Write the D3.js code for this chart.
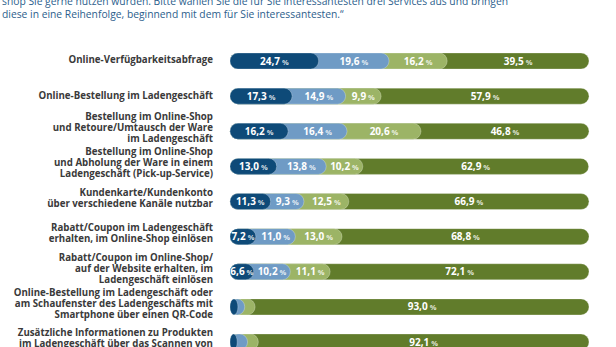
<!DOCTYPE html>
<html><head><meta charset="utf-8">
<script src="https://cdn.jsdelivr.net/npm/d3@7"></script>
<style>
html,body{margin:0;padding:0;background:#fff;}
svg{display:block;}
</style></head>
<body>
<svg id="chart" width="616" height="347"></svg>
<script>
const titleLines = [
  "shop Sie gerne nutzen würden. Bitte wählen Sie die für Sie interessantesten drei Services aus und bringen",
  "diese in eine Reihenfolge, beginnend mit dem für Sie interessantesten.“"
];
const categories = [
  "Online-Verfügbarkeitsabfrage",
  "Online-Bestellung im Ladengeschäft",
  "Bestellung im Online-Shop\nund Retoure/Umtausch der Ware\nim Ladengeschäft",
  "Bestellung im Online-Shop\nund Abholung der Ware in einem\nLadengeschäft (Pick-up-Service)",
  "Kundenkarte/Kundenkonto\nüber verschiedene Kanäle nutzbar",
  "Rabatt/Coupon im Ladengeschäft\nerhalten, im Online-Shop einlösen",
  "Rabatt/Coupon im Online-Shop/\nauf der Website erhalten, im\nLadengeschäft einlösen",
  "Online-Bestellung im Ladengeschäft oder\nam Schaufenster des Ladengeschäfts mit\nSmartphone über einen QR-Code",
  "Zusätzliche Informationen zu Produkten\nim Ladengeschäft über das Scannen von"
];
const seriesNames = ["Platz 1", "Platz 2", "Platz 3", "nicht gewählt"];
const rank1 = [24.7, 17.3, 16.2, 13.0, 11.3, 7.2, 6.6, 2.2, 2.0];
const rank2 = [19.6, 14.9, 16.4, 13.8, 9.3, 11.0, 10.2, 1.9, 2.9];
const rank3 = [16.2, 9.9, 20.6, 10.2, 12.5, 13.0, 11.1, 2.9, 3.0];
const notChosen = [39.5, 57.9, 46.8, 62.9, 66.9, 68.8, 72.1, 93.0, 92.1];
const showLabel = [
  [true, true, true, true], [true, true, true, true], [true, true, true, true],
  [true, true, true, true], [true, true, true, true], [true, true, true, true],
  [true, true, true, true], [false, false, false, true], [false, false, false, true]
];
const colors = ["#0e4a78", "#6f9bc5", "#9cb466", "#617c2b"];

const svg = d3.select("#chart");
const x = d3.scaleLinear().domain([0, 100]).range([230, 589]);
const y = d3.scalePoint().domain(categories).range([61, 342]);
const barH = 16;

// title
svg.append("g").selectAll("text").data(titleLines).join("text")
  .attr("x", 2).attr("y", (d, i) => 5 + i * 12.5)
  .attr("font-family", "Open Sans, sans-serif").attr("font-size", 10.3)
  .attr("fill", "#2c5e8c").text(d => d);

const series = [rank1, rank2, rank3, notChosen];
const rows = categories.map((c, i) => {
  let cum = 0;
  const segs = series.map((s, k) => {
    const start = cum; cum += s[i];
    return { k, v: s[i], start, end: cum, label: showLabel[i][k] };
  });
  return { c, i, segs };
});

// category labels
const lab = svg.append("g");
rows.forEach(r => {
  const lines = r.c.split("\n");
  const lh = 11;
  const cy = y(r.c) + (lines.length > 1 ? -3.5 : -1);
  const t = lab.append("text")
    .attr("x", 213).attr("text-anchor", "end")
    .attr("font-family", "Open Sans, sans-serif").attr("font-weight", 700)
    .attr("font-size", 9.7).attr("fill", "#3a3a3a");
  lines.forEach((l, j) => {
    t.append("tspan").attr("x", 213)
      .attr("y", cy + (j - (lines.length - 1) / 2) * lh)
      .attr("dy", "0.35em").text(l);
  });
});

// bars
const bars = svg.append("g");
rows.forEach(r => {
  const g = bars.append("g");
  const yc = y(r.c);
  [...r.segs].reverse().forEach(s => {
    const w = x(s.end) - x(0);
    g.append("rect")
      .attr("x", x(0)).attr("y", yc - barH / 2)
      .attr("width", w).attr("height", barH)
      .attr("rx", Math.min(barH / 2, w / 2)).attr("ry", barH / 2)
      .attr("fill", colors[s.k])
      .attr("stroke", "rgba(255,255,255,0.45)").attr("stroke-width", 0.6);
  });
  r.segs.filter(s => s.label).forEach(s => {
    const cx = (x(s.start) + x(s.end)) / 2;
    const t = g.append("text")
      .attr("x", cx).attr("y", yc).attr("dy", "0.36em")
      .attr("text-anchor", "middle")
      .attr("font-family", "Open Sans, sans-serif").attr("font-weight", 700)
      .attr("font-size", 10).attr("fill", "#fff");
    t.append("tspan").text(d3.format(".1f")(s.v).replace(".", ","));
    t.append("tspan").attr("font-size", 7.5).attr("fill-opacity", 0.8).text(" %");
  });
});
</script>
</body></html>
